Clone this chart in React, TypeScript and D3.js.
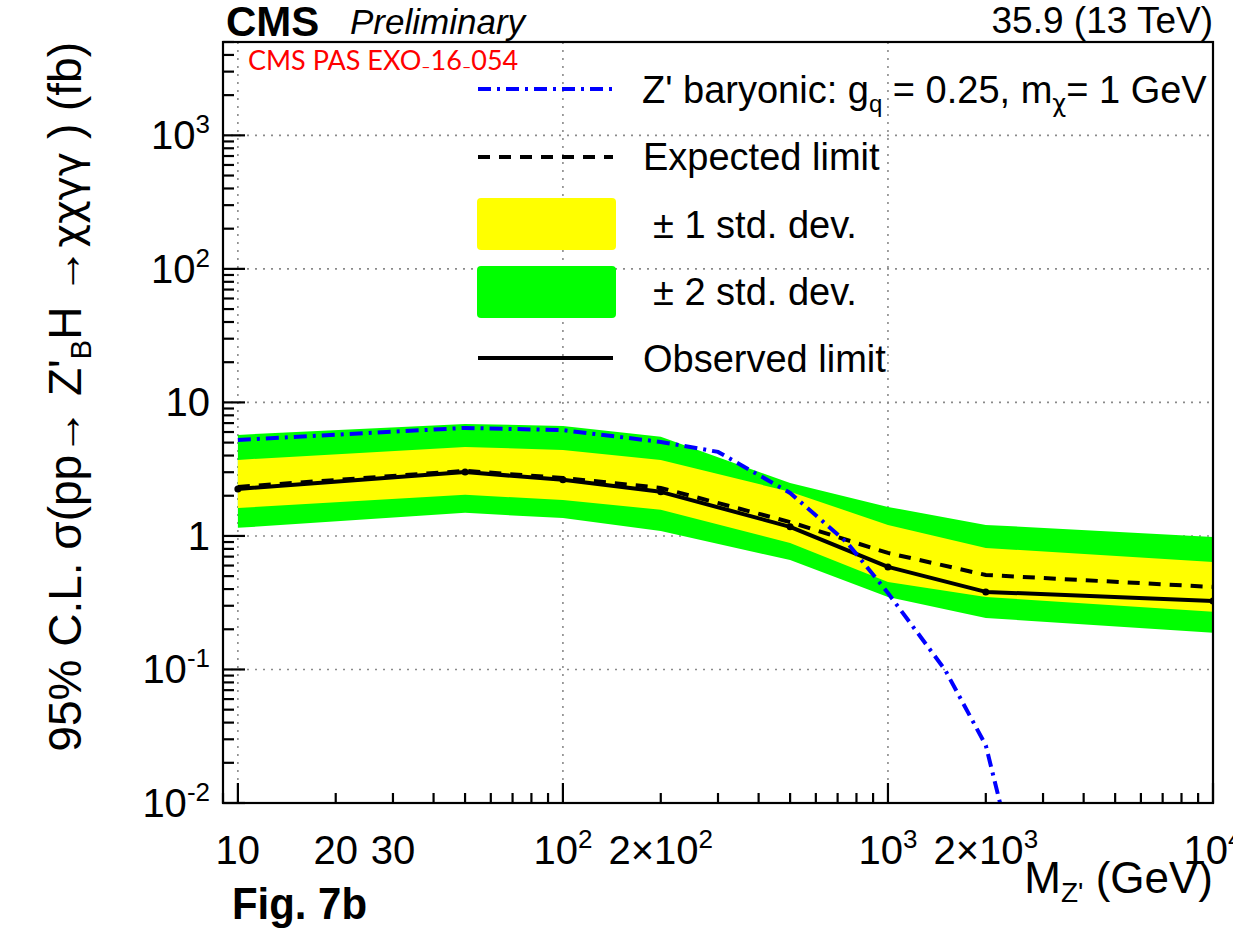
import React from 'react';
import * as d3 from 'd3';

// ---- data ----
const masses = [10, 50, 100, 200, 500, 1000, 2000, 10000];
const observed = [2.25, 3.01, 2.63, 2.14, 1.17, 0.586, 0.381, 0.326];
const expected = [2.33, 3.07, 2.72, 2.29, 1.27, 0.746, 0.51, 0.415];
const plus1 = [3.71, 4.64, 4.41, 3.71, 2.14, 1.21, 0.813, 0.639];
const minus1 = [1.62, 2.03, 1.86, 1.57, 0.886, 0.452, 0.349, 0.27];
const plus2 = [5.71, 6.9, 6.67, 5.52, 2.49, 1.65, 1.21, 0.98];
const minus2 = [1.15, 1.49, 1.36, 1.09, 0.66, 0.349, 0.243, 0.188];

const zMasses = [10, 50, 100, 200, 300, 500, 750, 1000, 1500, 2000, 3000];
const zXsec = [5.24, 6.44, 6.2, 5.06, 4.26, 2.1, 0.886, 0.374, 0.099, 0.027, 0.0005];

const xTickLabels = [
  { v: 10, base: '10', sup: '' },
  { v: 20, base: '20', sup: '' },
  { v: 30, base: '30', sup: '' },
  { v: 100, base: '10', sup: '2' },
  { v: 200, base: '2×10', sup: '2' },
  { v: 1000, base: '10', sup: '3' },
  { v: 2000, base: '2×10', sup: '3' },
  { v: 10000, base: '10', sup: '4' },
];
const yTickLabels = [
  { v: 0.01, base: '10', sup: '-2' },
  { v: 0.1, base: '10', sup: '-1' },
  { v: 1, base: '1', sup: '' },
  { v: 10, base: '10', sup: '' },
  { v: 100, base: '10', sup: '2' },
  { v: 1000, base: '10', sup: '3' },
];
const xDecades = [10, 100, 1000, 10000];
const yDecades = [0.01, 0.1, 1, 10, 100, 1000];
const xGrid = [10, 100, 1000];
const yGrid = [0.1, 1, 10, 100, 1000];

const W = 1233;
const H = 937;
const L = 223, R = 1213, T = 42, B = 803;
const FONT = "'Liberation Sans', Arial, Helvetica, sans-serif";
const GREEK = "'DejaVu Sans', 'Liberation Sans', sans-serif";

export default function App() {
  const x = d3.scaleLog().domain([9, 10000]).range([L, R]);
  const y = d3.scaleLog().domain([0.01, 5000]).range([B, T]);

  const idx = masses.map((_, i) => i);
  const band = (lo: number[], hi: number[]) =>
    d3.area<number>().x((i) => x(masses[i])).y0((i) => y(lo[i])).y1((i) => y(hi[i]))(idx) || '';
  const line = (vals: number[]) =>
    d3.line<number>().x((i) => x(masses[i])).y((i) => y(vals[i]))(idx) || '';
  const zLine =
    d3.line<number>().x((i) => x(zMasses[i])).y((i) => y(zXsec[i]))(zMasses.map((_, i) => i)) || '';

  // minor ticks
  const xMinor: number[] = [];
  [1, 10, 100, 1000].forEach((d) => {
    for (let k = 1; k <= 9; k++) {
      const v = d * k;
      if (v >= 9 && v <= 10000 && !xDecades.includes(v)) xMinor.push(v);
    }
  });
  const yMinor: number[] = [];
  [0.01, 0.1, 1, 10, 100, 1000].forEach((d) => {
    for (let k = 2; k <= 9; k++) {
      const v = d * k;
      if (v <= 5000) yMinor.push(v);
    }
  });

  return (
    <div style={{ position: 'absolute', left: 0, top: 0 }}>
      <svg width={W} height={H} style={{ display: 'block', background: '#fff' }} fontFamily={FONT}>
        <defs>
          <clipPath id="plotclip">
            <rect x={L} y={T} width={R - L} height={B - T} />
          </clipPath>
        </defs>
        <rect x={0} y={0} width={W} height={H} fill="#fff" />

        {/* grid */}
        <g stroke="#8a8a8a" strokeWidth={1.6} strokeDasharray="2 6">
          {xGrid.map((v) => (
            <line key={'gx' + v} x1={x(v)} x2={x(v)} y1={T} y2={B} />
          ))}
          {yGrid.map((v) => (
            <line key={'gy' + v} x1={L} x2={R} y1={y(v)} y2={y(v)} />
          ))}
        </g>

        <g clipPath="url(#plotclip)">
          <path d={band(minus2, plus2)} fill="#00ff00" />
          <path d={band(minus1, plus1)} fill="#ffff00" />
          <path d={line(expected)} fill="none" stroke="#000" strokeWidth={4} strokeDasharray="12 9" />
          <path d={line(observed)} fill="none" stroke="#000" strokeWidth={4} strokeLinejoin="round" />
          {masses.map((m, i) => (
            <circle key={'o' + m} cx={x(m)} cy={y(observed[i])} r={3.5} fill="#000" />
          ))}
          <path d={zLine} fill="none" stroke="#0000ff" strokeWidth={4} strokeDasharray="13 6 3 6" />
        </g>

        {/* frame & ticks */}
        <g stroke="#000" strokeWidth={2.2} fill="none">
          <rect x={L} y={T} width={R - L} height={B - T} />
          {xDecades.map((v) => (
            <line key={'xM' + v} x1={x(v)} x2={x(v)} y1={B} y2={B - 20} />
          ))}
          {xMinor.map((v) => (
            <line key={'xm' + v} x1={x(v)} x2={x(v)} y1={B} y2={B - 10} />
          ))}
          {yDecades.map((v) => (
            <line key={'yM' + v} x1={L} x2={L + 22} y1={y(v)} y2={y(v)} />
          ))}
          {yMinor.map((v) => (
            <line key={'ym' + v} x1={L} x2={L + 11} y1={y(v)} y2={y(v)} />
          ))}
        </g>

        {/* x tick labels */}
        <g fontSize={40} fill="#000" textAnchor="middle">
          {xTickLabels.map((t) => (
            <text key={'xl' + t.v} x={x(t.v)} y={864}>
              <tspan>{t.base}</tspan>
              {t.sup && (
                <tspan fontSize={26} dy={-16}>
                  {t.sup}
                </tspan>
              )}
            </text>
          ))}
        </g>
        {/* y tick labels */}
        <g fontSize={40} fill="#000" textAnchor="end">
          {yTickLabels.map((t) => (
            <text key={'yl' + t.v} x={210} y={y(t.v) + 14}>
              <tspan>{t.base}</tspan>
              {t.sup && (
                <tspan fontSize={26} dy={-16}>
                  {t.sup}
                </tspan>
              )}
            </text>
          ))}
        </g>

        {/* axis titles */}
        <text x={R} y={893} fontSize={44} textAnchor="end" fill="#000">
          <tspan>M</tspan>
          <tspan fontSize={28} dy={9}>Z'</tspan>
          <tspan dy={-9}> (GeV)</tspan>
        </text>
        <text transform="translate(81,42) rotate(-90)" x={0} y={0} fontSize={46} textAnchor="end" fill="#000">
          <tspan>95% C.L. σ(pp→ Z'</tspan>
          <tspan fontSize={29} dy={10}>B</tspan>
          <tspan dy={-10}>H →</tspan>
          <tspan fontFamily={GREEK} fontSize={41}>χχγγ</tspan>
          <tspan> ) (fb)</tspan>
        </text>

        {/* header */}
        <text x={226} y={36} fontSize={42} fontWeight="bold" fill="#000">CMS</text>
        <text x={350} y={34} fontSize={35} fontStyle="italic" fill="#000">Preliminary</text>
        <text x={R} y={33} fontSize={37} textAnchor="end" fill="#000">35.9 (13 TeV)</text>
        <text x={248} y={70} fontSize={27} fill="#ff0000" fontFamily="Lato, 'Open Sans', sans-serif">
          <tspan>CMS PAS EXO</tspan>
          <tspan fontSize={16} dy={2}>–</tspan>
          <tspan fontSize={27} dy={-2}>16</tspan>
          <tspan fontSize={16} dy={2}>–</tspan>
          <tspan fontSize={27} dy={-2}>054</tspan>
        </text>

        {/* legend */}
        <g>
          <line x1={478} x2={613} y1={89} y2={89} stroke="#0000ff" strokeWidth={4} strokeDasharray="13 6 3 6" />
          <line x1={478} x2={613} y1={157} y2={157} stroke="#000" strokeWidth={4} strokeDasharray="12 9" />
          <rect x={477} y={198} width={139} height={52} rx={4} fill="#ffff00" />
          <rect x={477} y={266} width={139} height={52} rx={4} fill="#00ff00" />
          <line x1={478} x2={613} y1={358} y2={358} stroke="#000" strokeWidth={4} />
          <g fontSize={38} fill="#000">
            <text x={642} y={103}>
              <tspan>Z' baryonic: g</tspan>
              <tspan fontSize={24} dy={9}>q</tspan>
              <tspan dy={-9}> = 0.25, m</tspan>
              <tspan fontSize={24} dy={9} fontFamily={GREEK}>χ</tspan>
              <tspan dy={-9}>= 1 GeV</tspan>
            </text>
            <text x={643} y={170}>Expected limit</text>
            <text x={653} y={238}>± 1 std. dev.</text>
            <text x={653} y={305}>± 2 std. dev.</text>
            <text x={643} y={372}>Observed limit</text>
          </g>
        </g>

        <text x={232} y={919} fontSize={44} fontWeight="bold" fill="#000" textLength={135} lengthAdjust="spacingAndGlyphs"
          fontFamily="'Liberation Sans Narrow', 'Liberation Sans', Arial, sans-serif">Fig. 7b</text>
      </svg>
    </div>
  );
}
